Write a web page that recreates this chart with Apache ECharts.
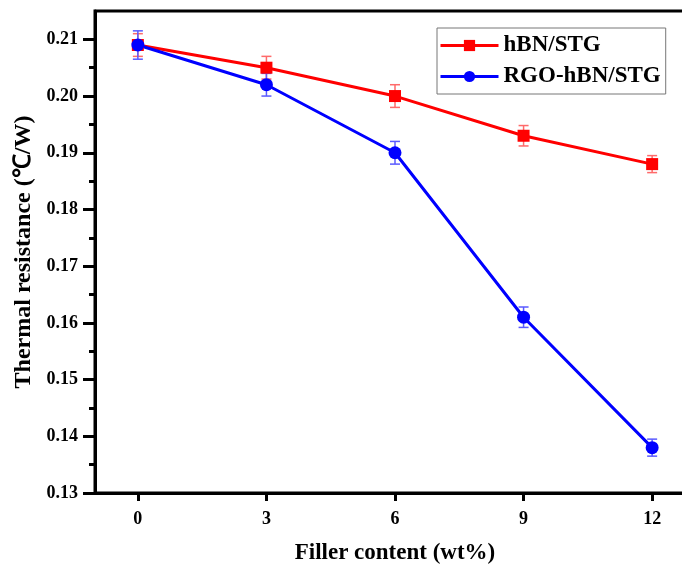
<!DOCTYPE html>
<html>
<head>
<meta charset="utf-8">
<script src="https://cdn.jsdelivr.net/npm/echarts@6/dist/echarts.min.js"></script>
<style>
  html, body { margin: 0; padding: 0; background: #fff; }
  #main { width: 682px; height: 568px; }
</style>
</head>
<body>
<div id="main"></div>
<script>
// data
var fillerContent = [0, 3, 6, 9, 12];
var hbnValues = [0.209, 0.205, 0.200, 0.193, 0.188];
var hbnErrors = [0.002, 0.002, 0.002, 0.0018, 0.0015];
var rgoValues = [0.209, 0.202, 0.190, 0.161, 0.138];
var rgoErrors = [0.0025, 0.002, 0.002, 0.0018, 0.0015];
var xTicks = [0, 3, 6, 9, 12];
var yTicks = [0.13, 0.14, 0.15, 0.16, 0.17, 0.18, 0.19, 0.20, 0.21];
var yMinorTicks = [0.135, 0.145, 0.155, 0.165, 0.175, 0.185, 0.195, 0.205];

var font = "'Liberation Serif', 'Times New Roman', serif";

var myChart = echarts.init(document.getElementById('main'));

function errorBars(name, vals, errs, color) {
  return {
    name: name + ' err',
    type: 'custom',
    data: fillerContent.map(function (x, i) { return [x, vals[i] - errs[i], vals[i] + errs[i]]; }),
    renderItem: function (params, api) {
      var lo = api.coord([api.value(0), api.value(1)]);
      var hi = api.coord([api.value(0), api.value(2)]);
      var w = 5;
      var style = { stroke: color, lineWidth: 1.5 };
      return {
        type: 'group',
        children: [
          { type: 'line', shape: { x1: lo[0], y1: lo[1], x2: hi[0], y2: hi[1] }, style: style },
          { type: 'line', shape: { x1: hi[0] - w, y1: hi[1], x2: hi[0] + w, y2: hi[1] }, style: style },
          { type: 'line', shape: { x1: lo[0] - w, y1: lo[1], x2: lo[0] + w, y2: lo[1] }, style: style }
        ]
      };
    },
    silent: true
  };
}

var option = {
  animation: false,
  backgroundColor: '#fff',
  textStyle: { fontFamily: font },
  grid: {
    left: 95, width: 600, top: 11, bottom: 75,
    outerBoundsMode: 'none',
    containLabel: false,
    show: true, borderColor: '#000', borderWidth: 3
  },
  legend: {
    left: 437, top: 28,
    orient: 'vertical',
    data: ['hBN/STG', 'RGO-hBN/STG'],
    itemWidth: 58, itemHeight: 14, itemGap: 8,
    padding: [6, 5, 6, 2],
    backgroundColor: '#fff',
    borderColor: '#777', borderWidth: 1, borderRadius: 0,
    lineStyle: { width: 3 },
    textStyle: { fontFamily: font, fontWeight: 'bold', fontSize: 23, color: '#000', lineHeight: 23 }
  },
  xAxis: {
    type: 'value',
    min: -1, max: 13,
    name: 'Filler content (wt%)',
    nameLocation: 'middle',
    nameGap: 49,
    nameTextStyle: { fontFamily: font, fontWeight: 'bold', fontSize: 23, color: '#000' },
    axisLine: { show: true, onZero: false, lineStyle: { color: '#000', width: 3 } },
    axisTick: { show: true, customValues: xTicks, length: 8, lineStyle: { color: '#000', width: 3 } },
    axisLabel: {
      customValues: xTicks, margin: 17,
      fontFamily: font, fontWeight: 'bold', fontSize: 18, color: '#000'
    },
    splitLine: { show: false }
  },
  yAxis: [{
    type: 'value',
    min: 0.13, max: 0.215,
    name: 'Thermal resistance (\u2103/W)',
    nameLocation: 'middle',
    nameGap: 57,
    nameTextStyle: { fontFamily: font, fontWeight: 'bold', fontSize: 24, color: '#000' },
    axisLine: { show: true, onZero: false, lineStyle: { color: '#000', width: 3 } },
    axisTick: { show: true, customValues: yTicks, length: 12, lineStyle: { color: '#000', width: 3 } },
    axisLabel: {
      customValues: yTicks, margin: 17,
      fontFamily: font, fontWeight: 'bold', fontSize: 18, color: '#000',
      formatter: function (v) { return v.toFixed(2); }
    },
    splitLine: { show: false }
  }, {
    type: 'value',
    position: 'left',
    min: 0.13, max: 0.215,
    axisLine: { show: false, onZero: false },
    axisTick: { show: true, customValues: yMinorTicks, length: 6, lineStyle: { color: '#000', width: 3 } },
    axisLabel: { show: false },
    splitLine: { show: false }
  }],
  series: [
    errorBars('hBN/STG', hbnValues, hbnErrors, '#ff6a6a'),
    {
      name: 'hBN/STG',
      type: 'line',
      data: fillerContent.map(function (x, i) { return [x, hbnValues[i]]; }),
      symbol: 'rect', symbolSize: 12,
      itemStyle: { color: '#ff0000' },
      lineStyle: { color: '#ff0000', width: 3 }
    },
    errorBars('RGO-hBN/STG', rgoValues, rgoErrors, '#5a5aff'),
    {
      name: 'RGO-hBN/STG',
      type: 'line',
      data: fillerContent.map(function (x, i) { return [x, rgoValues[i]]; }),
      symbol: 'circle', symbolSize: 13,
      itemStyle: { color: '#0000ff' },
      lineStyle: { color: '#0000ff', width: 3 }
    }
  ]
};

myChart.setOption(option);
</script>
</body>
</html>
